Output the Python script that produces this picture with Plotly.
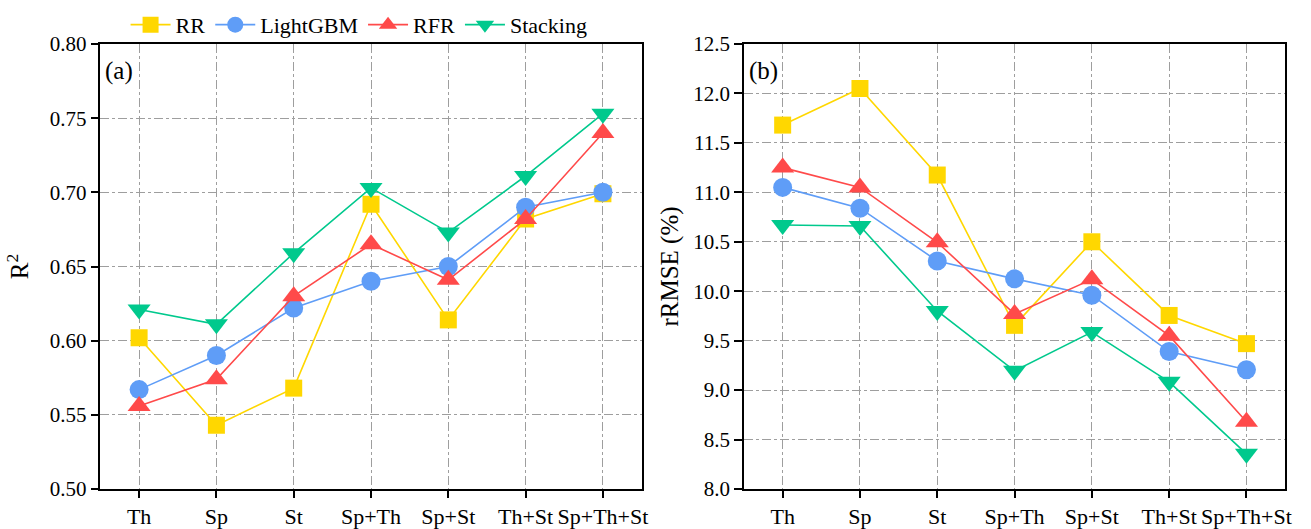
import plotly.graph_objects as go

categories = ["Th", "Sp", "St", "Sp+Th", "Sp+St", "Th+St", "Sp+Th+St"]
models = ["RR", "LightGBM", "RFR", "Stacking"]

r2_rr = [0.602, 0.543, 0.568, 0.692, 0.614, 0.682, 0.699]
r2_lgbm = [0.567, 0.590, 0.622, 0.640, 0.650, 0.690, 0.700]
r2_rfr = [0.556, 0.574, 0.630, 0.665, 0.641, 0.682, 0.740]
r2_stack = [0.621, 0.611, 0.659, 0.703, 0.673, 0.711, 0.753]

rmse_rr = [11.68, 12.05, 11.175, 9.655, 10.50, 9.755, 9.47]
rmse_lgbm = [11.05, 10.84, 10.306, 10.125, 9.96, 9.39, 9.205]
rmse_rfr = [11.25, 11.05, 10.495, 9.77, 10.12, 9.55, 8.68]
rmse_stack = [10.67, 10.66, 9.80, 9.195, 9.587, 9.084, 8.356]

colors = ["#FFD700", "#5F9DF7", "#FF4A4A", "#00C98D"]
symbols = ["square", "circle", "triangle-up", "triangle-down"]
sizes = [17, 19, 20, 20]

FONT = "Liberation Serif, Times New Roman, serif"

fig = go.Figure()

left_series = [r2_rr, r2_lgbm, r2_rfr, r2_stack]
right_series = [rmse_rr, rmse_lgbm, rmse_rfr, rmse_stack]

for i, name in enumerate(models):
    fig.add_trace(go.Scatter(
        x=categories, y=left_series[i], name=name, mode="lines+markers",
        line=dict(color=colors[i], width=1.6),
        marker=dict(symbol=symbols[i], size=sizes[i], color=colors[i], line=dict(width=0)),
        xaxis="x", yaxis="y", showlegend=True, legendgroup=name,
    ))
for i, name in enumerate(models):
    fig.add_trace(go.Scatter(
        x=categories, y=right_series[i], name=name, mode="lines+markers",
        line=dict(color=colors[i], width=1.6),
        marker=dict(symbol=symbols[i], size=sizes[i], color=colors[i], line=dict(width=0)),
        xaxis="x2", yaxis="y2", showlegend=False, legendgroup=name,
    ))

W, H = 1311, 529
axis_common = dict(
    showline=True, linecolor="black", linewidth=1.5, mirror=True,
    showgrid=True, gridcolor="#9E9E9E", griddash="dashdot", gridwidth=1,
    ticks="outside", tickcolor="black", tickwidth=1.5,
    zeroline=False,
)
xfont = dict(family=FONT, size=22, color="black")
yfont = dict(family=FONT, size=21, color="black")
tfont = dict(family=FONT, size=25, color="black")

fig.update_layout(
    width=W, height=H,
    margin=dict(l=0, r=0, t=44, b=39),
    paper_bgcolor="white", plot_bgcolor="white",
    font=dict(family=FONT, size=20, color="black"),
    xaxis=dict(domain=[101 / W, 645 / W], type="category", range=[-0.5, 6.5],
               anchor="y", ticklen=7, tickfont=xfont, **axis_common),
    yaxis=dict(domain=[0, 1], range=[0.50, 0.80], dtick=0.05, tickformat=".2f",
               anchor="x", ticklen=8, tickfont=yfont,
               title=dict(text="R<sup>2</sup>", font=tfont, standoff=14),
               **axis_common),
    xaxis2=dict(domain=[748 / W, 1292 / W], type="category", range=[-0.5, 6.5],
                anchor="y2", ticklen=7, tickfont=xfont, **axis_common),
    yaxis2=dict(domain=[0, 1], range=[8.0, 12.5], dtick=0.5, tickformat=".1f",
                anchor="x2", ticklen=8, tickfont=yfont,
                title=dict(text="rRMSE (%)", font=tfont, standoff=8),
                **axis_common),
    legend=dict(orientation="h", x=361 / W, xanchor="center", xref="paper",
                y=1.043, yanchor="middle", font=dict(family=FONT, size=22),
                bgcolor="rgba(0,0,0,0)", itemwidth=40, tracegroupgap=0),
    annotations=[
        dict(text="(a)", xref="x domain", yref="y domain", x=0.005, y=0.975,
             xanchor="left", yanchor="top", showarrow=False, font=dict(family=FONT, size=25)),
        dict(text="(b)", xref="x2 domain", yref="y2 domain", x=0.005, y=0.975,
             xanchor="left", yanchor="top", showarrow=False, font=dict(family=FONT, size=25)),
    ],
)

fig.write_html("out.html")
